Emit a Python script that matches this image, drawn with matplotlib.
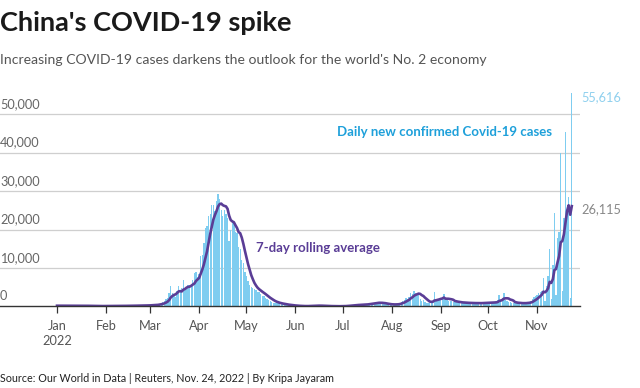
import matplotlib
matplotlib.use("Agg")
import matplotlib.pyplot as plt
import matplotlib.transforms as mtransforms
import pandas as pd

plt.rcParams['font.family'] = ['Lato', 'DejaVu Sans']

# ---- data (daily new confirmed cases, China, 2022) ----
jan = [175, 191, 175, 161, 175, 165, 159, 166, 195, 223, 190, 221, 165, 165, 165, 223,
       163, 127, 143, 105, 109, 104, 141, 84, 93, 99, 91, 75, 86, 98, 95]
feb = [100, 80, 78, 70, 90, 100, 110, 120, 140, 160, 150, 150, 140, 130, 140, 150,
       170, 200, 230, 250, 220, 200, 190, 230, 250, 300, 320, 250]
mar = [330, 350, 400, 450, 500, 530, 720, 900, 1100, 1400, 1800, 2100, 3500, 5300,
       3600, 3200, 2400, 4100, 5200, 4000, 4800, 6800, 4400, 4800, 5600, 5600, 5600,
       7000, 8700, 9000, 7600]
apr = [8400, 13100, 13300, 16400, 20400, 21000, 23600, 24100, 26300, 26400, 24800,
       27500, 29400, 28000, 25000, 23500, 25000, 24000, 23000, 17000, 20000, 22500,
       22000, 19500, 19000, 15500, 15000, 12000, 11200, 9000]
may = [7800, 6500, 5500, 5000, 4700, 4500, 4200, 3800, 3700, 3200, 2800, 2700, 2300,
       1900, 1600, 1300, 1200, 1000, 900, 850, 800, 650, 550, 500, 420, 380, 320, 300,
       250, 200, 150]
jun = [120, 110, 100, 90, 80, 70, 60, 55, 140, 150, 200, 250, 220, 210, 180, 150, 140,
       120, 100, 90, 80, 70, 60, 50, 45, 40, 35, 40, 60, 80]
jul = [100, 120, 150, 200, 280, 330, 370, 390, 400, 420, 380, 450, 480, 500, 550, 600,
       700, 800, 850, 900, 1000, 1100, 1000, 950, 850, 700, 650, 600, 500, 500, 480]
aug = [450, 500, 550, 600, 700, 900, 1200, 1500, 1700, 2100, 2000, 2500, 3600, 3100,
       4100, 3500, 3300, 3200, 2000, 1300, 1600, 1200, 1000, 900, 900, 1400, 1500, 3800,
       1600, 1700, 1800]
sep = [1900, 2100, 3200, 1800, 1600, 1500, 1400, 1300, 1200, 1100, 1100, 1000, 1000,
       950, 900, 950, 900, 850, 900, 850, 800, 850, 900, 850, 800, 850, 900, 950, 1000,
       1000]
oct_ = [1000, 950, 900, 1000, 1100, 1300, 1600, 3000, 1700, 2100, 3400, 1600, 1400,
        1200, 1100, 1000, 900, 850, 800, 850, 900, 850, 800, 850, 900, 1000, 1200, 1400,
        1800, 2500, 2700]
nov = [2900, 3400, 3800, 4100, 7500, 1300, 5200, 7900, 14900, 2000, 10800, 24200, 3000,
       17800, 19400, 39900, 4000, 23000, 45300, 24300, 28400, 2200, 55616]

month_labels = ['Jan\n2022', 'Feb', 'Mar', 'Apr', 'May', 'Jun', 'Jul', 'Aug', 'Sep',
                'Oct', 'Nov']
y_ticks = [0, 10000, 20000, 30000, 40000, 50000]
y_tick_labels = ['0', '10,000', '20,000', '30,000', '40,000', '50,000']
last_avg_label = '26,115'

cases = jan + feb + mar + apr + may + jun + jul + aug + sep + oct_ + nov
dates = pd.date_range('2022-01-01', periods=len(cases), freq='D')
series = pd.Series(cases, index=dates)
rolling = series.rolling(7, min_periods=1).mean()

# ---- figure ----
W, H = 640, 388
fig = plt.figure(figsize=(W / 100, H / 100), dpi=100)
ax = fig.add_axes([0, 1 - 306.4 / H, 580 / W, (306.4 - 83.7) / H])

bar_col = '#7fcdf0'
line_col = '#5a3d96'

ax.bar(series.index, series.values, width=0.85, color=bar_col, linewidth=0, zorder=2)
ax.plot(rolling.index, rolling.values, color=line_col, lw=1.9, zorder=3,
        solid_joinstyle='round')

start = pd.Timestamp('2022-01-01')
ax.set_xlim(start - pd.Timedelta(days=36.1), start + pd.Timedelta(days=331.2))
ax.set_ylim(0, 58000)

for yv in y_ticks[1:]:
    ax.axhline(yv, color='#cfcfcf', lw=0.9, zorder=1)

for s in ['top', 'right', 'left']:
    ax.spines[s].set_visible(False)
ax.spines['bottom'].set_color('#333333')
ax.spines['bottom'].set_linewidth(1.0)
ax.spines['bottom'].set_zorder(4)

month_starts = pd.date_range('2022-01-01', periods=11, freq='MS')
ax.set_xticks(month_starts)
ax.set_xticklabels(month_labels, fontsize=9.2, color='#555555', linespacing=1.25)
ax.tick_params(axis='x', length=5, width=0.9, color='#333333', pad=5)
ax.set_yticks([])

trans = mtransforms.blended_transform_factory(ax.transAxes, ax.transData)
up = mtransforms.ScaledTranslation(0, 3 / 72, fig.dpi_scale_trans)
for yv, lab in zip(y_ticks, y_tick_labels):
    ax.text(0.0, yv, lab, transform=trans + up, ha='left', va='bottom', fontsize=9.2,
            color='#666666')

# annotations
ax.text(pd.Timestamp('2022-06-27'), 45500, 'Daily new confirmed Covid-19 cases',
        fontsize=9.5, fontweight='bold', color='#1ea0da', ha='left', va='center')
ax.text(pd.Timestamp('2022-05-07'), 15300, '7-day rolling average',
        fontsize=9.5, fontweight='bold', color=line_col, ha='left', va='center')
ax.text(1.003, series.values[-1] - 1000, f'{series.values[-1]:,}', transform=trans,
        fontsize=9.2, color='#8fd0ee', ha='left', va='center')
ax.text(1.003, rolling.values[-1] - 800, last_avg_label, transform=trans,
        fontsize=9.2, color='#888888', ha='left', va='center')

# titles
fig.text(0.0, 1 - 23 / H, "China's COVID-19 spike", fontsize=19.5, fontweight='bold',
         color='#1a1a1a', ha='left', va='center')
fig.text(0.0, 1 - 60 / H,
         "Increasing COVID-19 cases darkens the outlook for the world's No. 2 economy",
         fontsize=10.05, color='#555555', ha='left', va='center')
fig.text(0.0, 1 - 378 / H,
         "Source: Our World in Data | Reuters, Nov. 24, 2022 | By Kripa Jayaram",
         fontsize=7.75, color='#222222', ha='left', va='center')

fig.savefig('out.png', dpi=100, facecolor='white')
